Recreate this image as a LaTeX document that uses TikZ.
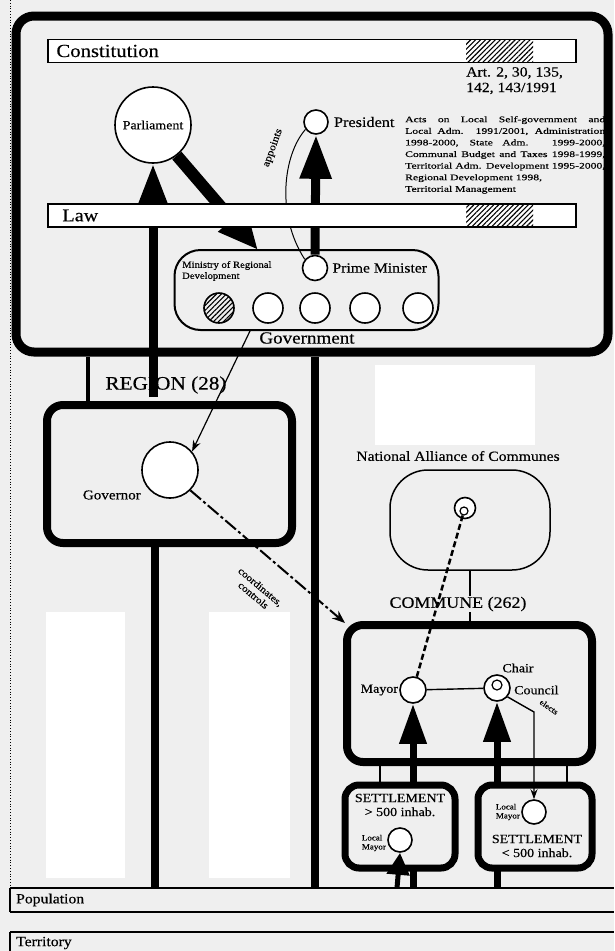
\documentclass[tikz,border=0pt]{standalone}
\usepackage{fontspec}
\setmainfont[FakeStretch=1.12,FakeBold=0.4]{Liberation Serif}
\newfontfamily\actsfont[FakeStretch=1.37,FakeBold=0.4]{Liberation Serif}
\usetikzlibrary{arrows.meta,patterns.meta}
\definecolor{bg}{HTML}{EFEFEF}
\newcommand{\fs}[1]{\fontsize{#1}{#1}\selectfont}
\begin{document}
\begin{tikzpicture}[x=1pt,y=-1pt,
  thickbox/.style={draw, line width=8pt, rounded corners=16pt, inner sep=0pt},
  barbox/.style={draw, line width=1.5pt, fill=white, inner sep=0pt, minimum width=528pt, minimum height=23pt},
  ring/.style={circle, draw, line width=1.6pt, fill=white, inner sep=0pt},
  hatch/.style={pattern={Lines[angle=45,distance=3.5pt,line width=1.1pt]}},
  bigarrow/.style={line width=9pt, -{Triangle[length=44pt,width=30pt]}},
  midarrow/.style={line width=7pt, -{Triangle[length=40pt,width=26pt]}},
  thin/.style={line width=1.4pt},
  lbl/.style={inner sep=1pt},
]
\fill[bg] (0,0) rectangle (614,951);
\useasboundingbox (0,0) rectangle (614,951);
\fill[white] (46,612) rectangle (125,878);
\fill[white] (209,612) rectangle (290,878);
\fill[white] (375,365) rectangle (535,445);
\draw[dotted, line width=0.8pt] (10,0) -- (10,888);

% ---------- state box ----------
\node[thickbox, line width=9pt, rounded corners=18pt, minimum width=592pt, minimum height=336pt] (state) at (312,184) {};

\node[ring, minimum size=76pt] (parl) at (153,125) {\fs{12.5}Parliament};
\node[ring, minimum size=24pt] (pres) at (316,122) {};
\node[lbl, anchor=west, font=\fs{14.5}] (preslbl) at ([xshift=4pt]pres.east) {President};

% government
\node[draw, line width=2pt, rounded corners=26pt, minimum width=264pt, minimum height=80pt, inner sep=0pt] (gov) at (306.5,290) {};
\node[ring, minimum size=25pt] (pm) at (315,268) {};
\node[lbl, anchor=west, font=\fs{14}] (pmlbl) at ([xshift=3pt]pm.east) {Prime Minister};
\node[lbl, anchor=west, align=left, font=\fontsize{9.5}{11}\selectfont] (minlbl) at (181,271) {Ministry of Regional\\Development};
\node[ring, minimum size=30pt, hatch] (m1) at (219,308) {};
\node[ring, minimum size=30pt] (m2) at (268,308) {};
\node[ring, minimum size=30pt] (m3) at (315,308) {};
\node[ring, minimum size=30pt] (m4) at (365,308) {};
\node[ring, minimum size=30pt] (m5) at (418,308) {};
\node[lbl, font=\fs{17}] (govlbl) at (307,338) {Government};

% connectors in state box
\coordinate (mintip) at (258,250);
\coordinate (parlfoot) at (153,397);
\draw[bigarrow] (parlfoot) -- (parl.south);
\draw[line width=12pt, -{Triangle[length=40pt,width=34pt]}] (parl.-52) -- (mintip);
\draw[bigarrow] (pm.north) -- (pres.south);
\draw[line width=1pt] (pres.215) .. controls (283,155) and (276,215) .. (pm.140);
\node[lbl, rotate=70, font=\fs{10.5}] (applbl) at (273,148) {appoints};

% bars
\node[barbox] (const) at (312,51) {};
\fill[hatch] (466,40) rectangle (533,62);
\node[lbl, anchor=west, font=\fs{18.5}] (constlbl) at ([xshift=8pt]const.west) {Constitution};
\node[barbox] (law) at (312,215.5) {};
\fill[hatch] (466,205) rectangle (533,226);
\node[lbl, anchor=west, font=\fs{18}] (lawlbl) at ([xshift=14pt]law.west) {Law};
\node[lbl, anchor=north west, align=left, font=\fontsize{14}{15.5}\selectfont] (artlbl) at (465,66) {Art. 2, 30, 135,\\142, 143/1991};
\node[lbl, anchor=north west, inner sep=0pt, align=left, font=\actsfont\fontsize{8.5}{11.6}\selectfont] (acts) at (405,116)
 {\makebox[200pt][s]{Acts on Local Self-government and}\\
  \makebox[200pt][s]{Local Adm. 1991/2001, Administration}\\
  \makebox[200pt][s]{1998-2000, State Adm. 1999-2000,}\\
  \makebox[200pt][s]{Communal Budget and Taxes 1998-1999,}\\
  \makebox[200pt][s]{Territorial Adm. Development 1995-2000,}\\
  Regional Development 1998,\\
  Territorial Management};

% ---------- region ----------
\node[thickbox, minimum width=245pt, minimum height=138pt] (region) at (169.5,474) {};
\node[lbl, font=\fs{19}] (reglbl) at (166,385) {REGION (28)};
\draw[line width=3.5pt] (88,0 |- state.south) -- (88,0 |- region.north);
\node[ring, minimum size=56pt] (governor) at (170,470) {};
\node[lbl, anchor=east, font=\fs{13.5}] (govnlbl) at (142,495) {Governor};
\draw[line width=1.2pt, -{Stealth[length=11pt,width=8pt]}] (250,0 |- gov.south) -- (governor.40);

% ---------- vertical lines to population ----------
\coordinate (popline) at (0,888);
\draw[line width=8pt] (155,0 |- region.south) -- (155,0 |- popline);
\draw[line width=8pt] (315,0 |- state.south) -- (315,0 |- popline);

% ---------- national alliance ----------
\node[lbl, font=\fs{14}] (naclbl) at (458,456) {National Alliance of Communes};
\node[draw, line width=1.5pt, rounded corners=38pt, minimum width=160pt, minimum height=100pt, inner sep=0pt] (nac) at (470,520) {};
\node[ring, minimum size=21pt] (nacc) at (465,508) {};
\node[circle, draw, line width=1.2pt, minimum size=8pt, inner sep=0pt] (nacin) at (464,511) {};
\node[lbl, font=\fs{16}] (comlbl) at (458,604) {COMMUNE (262)};

% ---------- commune ----------
\node[thickbox, minimum width=245pt, minimum height=137pt] (commune) at (469.5,693.5) {};
\draw[thin] (nac.south) -- (nac.south |- comlbl.north);
\draw[thin] (nac.south |- comlbl.south) -- (nac.south |- commune.north);
\node[ring, minimum size=26pt] (mayor) at (413,690) {};
\node[ring, minimum size=26pt] (chair) at (497,688) {};
\node[circle, draw, line width=1.2pt, minimum size=10pt, inner sep=0pt] (chairin) at (497,685) {};
\node[lbl, anchor=east, font=\fs{12.5}] (maylbl) at (mayor.west) {Mayor};
\node[lbl, font=\fs{12.5}] (chairlbl) at (518,668) {Chair};
\node[lbl, anchor=west, font=\fs{12.5}] (counlbl) at (513,690) {Council};
\draw[thin] (mayor) -- (chair);
\draw[line width=2.5pt, dash pattern=on 6pt off 3pt] (nacin) -- (mayor);

% coordinates / controls
\draw[line width=2pt, dash pattern=on 14pt off 3pt on 3pt off 3pt, -{Stealth[length=13pt,width=10pt]}] (governor.-45) -- ([xshift=2pt,yshift=-2pt]commune.north west);
\node[lbl, rotate=-40, align=center, font=\fontsize{10}{11}\selectfont] (coordlbl) at (257,591) {coordinates,\\controls};

% ---------- settlements ----------
\draw[midarrow] (413,0 |- popline) -- (mayor.south);
\draw[midarrow] (497,0 |- popline) -- (chair.south);
\node[thickbox, line width=7pt, rounded corners=14pt, minimum width=110pt, minimum height=83pt, fill=bg] (set1) at (400,826.5) {};
\node[thickbox, line width=7pt, rounded corners=14pt, minimum width=114pt, minimum height=83pt, fill=bg] (set2) at (535,826.5) {};
\draw[line width=2pt] (380,0 |- commune.south) -- (380,0 |- set1.north);
\draw[line width=2pt] (567,0 |- commune.south) -- (567,0 |- set2.north);

\node[lbl, align=center, font=\fontsize{12.5}{14}\selectfont] (s1lbl) at (400,805) {SETTLEMENT\\> 500 inhab.};
\node[ring, minimum size=24pt] (lm1) at (400,840) {};
\node[lbl, anchor=east, align=left, font=\fontsize{8}{9}\selectfont] (lm1lbl) at (387,843) {Local\\Mayor};
\draw[line width=5pt, -{Triangle[length=22pt,width=22pt]}] (397,0 |- popline) -- (lm1.south);

\node[ring, minimum size=24pt] (lm2) at (534,812) {};
\node[lbl, anchor=east, align=left, font=\fontsize{8}{9}\selectfont] (lm2lbl) at (521,812) {Local\\Mayor};
\node[lbl, align=center, font=\fontsize{12.5}{14}\selectfont] (s2lbl) at (537,846) {SETTLEMENT\\< 500 inhab.};
\draw[thin, -{Stealth[length=10pt,width=7pt]}] (chair.-40) -- (lm2.north |- 0,712) -- (lm2.north);
\node[lbl, rotate=-35, font=\fs{8}] (electlbl) at (549,707) {elects};

% ---------- population / territory ----------
\draw[line width=1.5pt] (10,888) -- (614,888);
\draw[line width=1.5pt] (10,912) -- (614,912);
\draw[line width=1.5pt] (10,888) -- (10,912);
\draw[line width=1.5pt] (10,932) -- (614,932);
\draw[line width=1.5pt] (10,932) -- (10,951);
\node[lbl, anchor=west, font=\fs{14}] (poplbl) at (15,900) {Population};
\node[lbl, anchor=west, font=\fs{14}] (terrlbl) at (15,943) {Territory};
\end{tikzpicture}
\end{document}
